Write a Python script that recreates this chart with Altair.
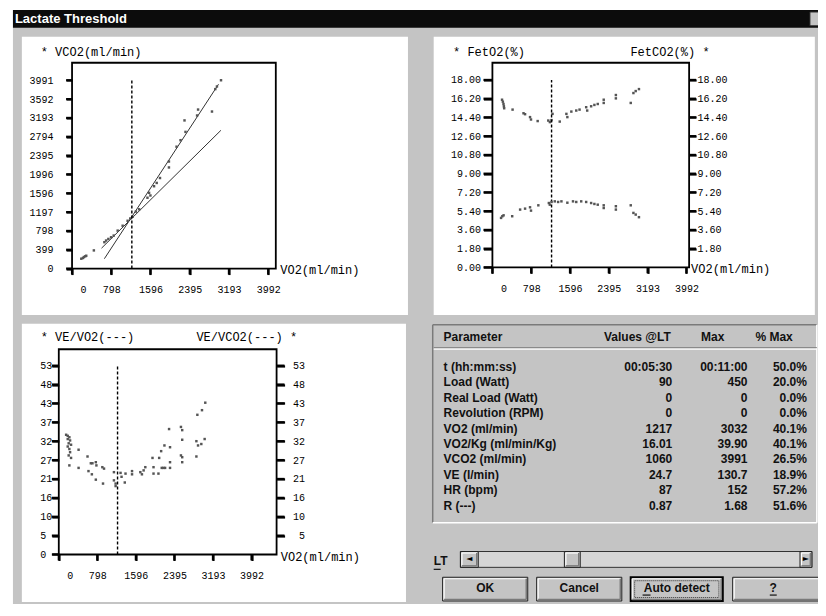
import altair as alt
import pandas as pd

# ---------------- data ----------------
lt_vo2 = 1217

# Panel 1: VCO2 vs VO2
p1_vo2 = [188, 222, 242, 269, 289, 444, 658, 693, 739, 794, 848, 929, 1030, 1131, 1184, 1232,
          1299, 1366, 1535, 1568, 1595, 1669, 1723, 1790, 1972, 1972, 2127, 2208, 2309, 2289,
          2545, 2565, 2848, 2915, 2949, 3032]
p1_vco2 = [209, 224, 245, 260, 272, 385, 559, 594, 628, 663, 699, 804, 908, 1013, 1061, 1097,
           1208, 1256, 1501, 1605, 1549, 1745, 1815, 1919, 2143, 2269, 2583, 2721, 2897, 3140,
           3244, 3370, 3328, 3803, 3859, 3991]
reg_name = ["steep", "steep", "shallow", "shallow"]
reg_vo2 = [658, 2981, 600, 3030]
reg_vco2 = [209, 3907, 432, 2930]

# Panel 2: FetO2 / FetCO2 vs VO2
p2_o2_vo2 = [198, 215, 228, 236, 242, 415, 640, 672, 774, 794, 931, 1149, 1182, 1216, 1237, 1385,
             1522, 1542, 1624, 1725, 1793, 1929, 1950, 2031, 2098, 2167, 2290, 2290, 2540, 2540,
             2846, 2901, 2948, 3015]
p2_feto2 = [16.10, 15.91, 15.69, 15.47, 15.28, 15.15, 14.80, 14.71, 14.43, 14.20, 14.05, 14.10,
            13.95, 14.14, 14.74, 14.00, 14.74, 14.43, 14.96, 15.06, 15.15, 15.38, 15.06, 15.47,
            15.60, 15.69, 16.10, 15.79, 16.55, 16.23, 15.79, 16.74, 16.93, 17.12]
p2_co2_vo2 = [178, 204, 230, 407, 570, 672, 774, 794, 945, 1161, 1181, 1216, 1283, 1352, 1420,
              1542, 1658, 1725, 1827, 1929, 2031, 2098, 2167, 2290, 2290, 2540, 2540, 2846, 2901,
              2948, 3015]
p2_fetco2 = [4.75, 4.91, 5.00, 4.91, 5.55, 5.64, 5.77, 5.45, 5.96, 6.18, 6.02, 6.28, 6.34, 6.28,
             6.34, 6.21, 6.34, 6.28, 6.34, 6.28, 6.18, 6.09, 6.02, 5.96, 5.70, 5.87, 5.55, 5.96,
             5.23, 5.07, 4.82]

# Panel 3: VE/VO2 and VE/VCO2 vs VO2
p3_o2_vo2 = [185, 219, 234, 205, 254, 219, 410, 615, 685, 767, 916, 1142, 1177, 1177, 1367, 1300,
             1517, 1722, 1962, 2064, 2120, 2188, 2284, 2304, 2530, 2556, 2556, 2870, 2966, 3034]
p3_ve_vo2 = [30.3, 29.6, 28.7, 27.8, 27.1, 25.0, 24.3, 23.4, 22.5, 21.0, 19.9, 20.8, 19.9, 19.2,
             20.2, 21.8, 22.5, 22.5, 22.7, 22.7, 29.0, 30.6, 35.2, 30.1, 35.8, 34.9, 32.2, 39.2,
             40.5, 42.6]
p3_co2_vo2 = [152, 185, 219, 185, 234, 205, 254, 410, 595, 664, 697, 767, 779, 902, 937, 1142,
              1279, 1382, 1517, 1689, 1757, 1792, 1941, 1962, 2079, 2132, 2167, 2202, 2304, 2304,
              2530, 2556, 2556, 2850, 2850, 2884, 2952, 3021]
p3_ve_vco2 = [33.6, 33.3, 32.9, 32.4, 32.0, 31.2, 30.8, 29.4, 27.5, 25.6, 25.6, 25.9, 25.0, 24.5,
              24.1, 23.1, 22.9, 22.7, 23.4, 23.1, 23.6, 24.5, 27.1, 24.5, 27.1, 24.3, 24.3, 24.3,
              25.9, 24.3, 27.8, 27.3, 25.9, 31.8, 27.5, 30.6, 31.0, 32.4]

# Axis ticks
x_ticks = [0, 798, 1596, 2395, 3193, 3992]
p1_y_ticks = [0, 399, 798, 1197, 1596, 1996, 2395, 2794, 3193, 3592, 3991]
p2_y_ticks = [0, 1.8, 3.6, 5.4, 7.2, 9.0, 10.8, 12.6, 14.4, 16.2, 18.0]
p3_y_ticks = [0, 5.3, 10.6, 15.9, 21.2, 26.5, 31.8, 37.1, 42.4, 47.7, 53.0]
p3_y_labels = ["0", "5", "10", "16", "21", "27", "32", "37", "43", "48", "53"]
top_ticks = [3991, 18.0, 53.0]

# Table
params = ["t (hh:mm:ss)", "Load (Watt)", "Real Load (Watt)", "Revolution (RPM)", "VO2 (ml/min)",
          "VO2/Kg (ml/min/Kg)", "VCO2 (ml/min)", "VE (l/min)", "HR (bpm)", "R (---)"]
values_lt = ["00:05:30", "90", "0", "0", "1217", "16.01", "1060", "24.7", "87", "0.87"]
values_max = ["00:11:00", "450", "0", "0", "3032", "39.90", "3991", "130.7", "152", "1.68"]
values_pct = ["50.0%", "20.0%", "0.0%", "0.0%", "40.1%", "40.1%", "26.5%", "18.9%", "57.2%", "51.6%"]

# ---------------- layout helpers ----------------
W, H = 810, 596
MONO = "Liberation Mono"
SANS = "Liberation Sans"
GREY = "#c4c4c4"
PT = "#555555"
TW = 2.2


def px(v):
    return round((v - 8) * 0.99, 2)


def py(v):
    return round((v - 8) * 0.99, 2)


one = pd.DataFrame({"k": [0]})


def rect(x1, y1, x2, y2, fill="white", stroke=None, sw=1.0, dash=None, fo=1.0):
    kw = dict(fill=fill, fillOpacity=fo)
    if stroke:
        kw.update(stroke=stroke, strokeWidth=sw)
    if dash:
        kw["strokeDash"] = dash
    return alt.Chart(one).mark_rect(**kw).encode(
        x=alt.value(px(x1)), x2=alt.value(px(x2)), y=alt.value(py(y1)), y2=alt.value(py(y2)))


def seg(x1, y1, x2, y2, color="black", sw=1.0):
    return alt.Chart(one).mark_rule(color=color, strokeWidth=sw).encode(
        x=alt.value(px(x1)), x2=alt.value(px(x2)), y=alt.value(py(y1)), y2=alt.value(py(y2)))


def txt(s, x, y, size=12, font=MONO, weight="normal", color="black", align="left"):
    return alt.Chart(one).mark_text(text=s, font=font, fontSize=size, fontWeight=weight,
                                    color=color, align=align, baseline="middle").encode(
        x=alt.value(px(x)), y=alt.value(py(y)))


def raised(x1, y1, x2, y2, outline="#202020", sw=1.0):
    return [
        rect(x1, y1, x2, y2, fill=GREY, stroke=outline, sw=sw),
        seg(x1 + 1.5, y1 + 1.5, x2 - 1.5, y1 + 1.5, "white", 1.2),
        seg(x1 + 1.5, y1 + 1.5, x1 + 1.5, y2 - 1.5, "white", 1.2),
        seg(x1 + 1.5, y2 - 1.5, x2 - 1.5, y2 - 1.5, "#7a7a7a", 1.5),
        seg(x2 - 1.5, y1 + 1.5, x2 - 1.5, y2 - 1.5, "#7a7a7a", 1.5),
    ]


LBL = 10
common = dict(title=None, grid=False, domain=False, tickColor="black", tickWidth=TW,
              labelFont=MONO, labelFontSize=LBL, labelColor="black", labelFlush=False,
              labelOverlap=False, zindex=2)


def ax_bottom(bottom, tick=6):
    return alt.Axis(orient="bottom", offset=round(py(bottom) - H, 2), values=x_ticks, format="d",
                    tickSize=tick, labelPadding=10,
                    labelOffset={"condition": {"test": "datum.value === 0", "value": 11}, "value": 0},
                    **common)


def ax_side(orient, xpos, values, tick, pad, align, fmt=None, expr=None):
    kw = dict(common)
    if fmt:
        kw["format"] = fmt
    if expr:
        kw["labelExpr"] = expr
    off = -px(xpos) if orient == "left" else px(xpos) - W
    return alt.Axis(orient=orient, offset=round(off, 2), values=values, tickSize=tick,
                    labelPadding=pad, labelAlign=align, **kw)


def scat(df, xf, yf, sx, sy, axx, axy):
    return alt.Chart(df).mark_square(size=6, color=PT, opacity=1).encode(
        x=alt.X(xf, type="quantitative", scale=sx, axis=axx),
        y=alt.Y(yf, type="quantitative", scale=sy, axis=axy))


def lt_rule(top, sx, sy, axx, axy, yf="v"):
    df = pd.DataFrame({"vo2": [lt_vo2], yf: [0.0], "top": [top]})
    return alt.Chart(df).mark_rule(color="black", strokeWidth=1.4, strokeDash=[3, 2]).encode(
        x=alt.X("vo2", type="quantitative", scale=sx, axis=axx),
        y=alt.Y(yf, type="quantitative", scale=sy, axis=axy),
        y2="top")


def xticks(bottom, sx, axx, length=6):
    # vertical tick marks hanging below the frame, placed through the panel's x scale
    df = pd.DataFrame({"vo2": x_ticks})
    return alt.Chart(df).mark_tick(color="black", orient="vertical", size=length * 0.99,
                                   thickness=TW, opacity=1).encode(
        x=alt.X("vo2", type="quantitative", scale=sx, axis=axx),
        y=alt.value(py(bottom + length / 2)))


def yticks(values, edge, length, sy, axy, yf="v"):
    # horizontal tick marks beside the frame, placed through the panel's y scale
    df = pd.DataFrame({yf: values})
    return alt.Chart(df).mark_tick(color="black", orient="horizontal", size=abs(length) * 0.99,
                                   thickness=TW, opacity=1).encode(
        y=alt.Y(yf, type="quantitative", scale=sy, axis=axy),
        x=alt.value(px(edge + length / 2)))


# ---------------- window chrome ----------------
chrome = [
    rect(13, 10, 840, 640, fill=GREY),
    rect(13, 10, 840, 28, fill="#0c0c0c"),
    txt("Lactate Threshold", 15, 19.5, size=13, font=SANS, weight="bold", color="white"),
    rect(818, 12, 840, 26, fill=GREY, stroke="#222", sw=1),
    rect(22, 37, 412, 318),
    rect(438, 37, 823, 318),
    rect(22, 327, 410, 608),
    # plot frames
    rect(72.7, 63.3, 278.5, 271.2, fo=0, stroke="black", sw=1.8),
    rect(497.3, 63.3, 696, 270, fo=0, stroke="black", sw=1.8),
    rect(59.3, 352.7, 279.3, 560, fo=0, stroke="black", sw=1.8),
    # titles
    txt("* VCO2(ml/min)", 41, 52),
    txt("VO2(ml/min)", 283, 273),
    txt("* FetO2(%)", 457.5, 52.5),
    txt("FetCO2(%) *", 636.7, 52.5),
    txt("VO2(ml/min)", 698, 272),
    txt("* VE/VO2(---)", 41, 340.5),
    txt("VE/VCO2(---) *", 198.3, 340.5),
    txt("VO2(ml/min)", 283.5, 562.5),
]

# ---------------- panel 1 ----------------
sx1 = alt.Scale(domain=[0, 4147], range=[px(72.7), px(278.5)], nice=False, zero=False)
sy1 = alt.Scale(domain=[0, 4362], range=[py(271.2), py(63.3)], nice=False, zero=False)
ax1x = ax_bottom(271.2)
ax1y = ax_side("left", 72.7, p1_y_ticks, 6, 13, "right", fmt="d")
df1 = pd.DataFrame({"vo2": p1_vo2, "v": p1_vco2})
dfreg = pd.DataFrame({"vo2": reg_vo2, "v": reg_vco2, "line": reg_name})
panel1 = alt.layer(
    alt.Chart(dfreg).mark_line(color="#333333", strokeWidth=1).encode(
        x=alt.X("vo2", type="quantitative", scale=sx1, axis=ax1x),
        y=alt.Y("v", type="quantitative", scale=sy1, axis=ax1y),
        detail="line:N"),
    scat(df1, "vo2", "v", sx1, sy1, ax1x, ax1y),
    lt_rule(top_ticks[0], sx1, sy1, ax1x, ax1y),
    xticks(271.2, sx1, ax1x),
    yticks(p1_y_ticks, 72.7, -6, sy1, ax1y),
)

# ---------------- panel 2 ----------------
sx2 = alt.Scale(domain=[0, 4047], range=[px(497.3), px(696)], nice=False, zero=False)
sy2 = alt.Scale(domain=[0, 19.65], range=[py(270), py(63.3)], nice=False, zero=False)
ax2x = ax_bottom(270)
ax2l = ax_side("left", 497.3, p2_y_ticks, 9, 3, "right", fmt=".2f")
ax2r = ax_side("right", 696, p2_y_ticks[1:], 7, 1, "left", fmt=".2f")
df2a = pd.DataFrame({"vo2": p2_o2_vo2, "v": p2_feto2})
df2b = pd.DataFrame({"vo2": p2_co2_vo2, "v2": p2_fetco2})
panel2 = alt.layer(
    alt.layer(scat(df2a, "vo2", "v", sx2, sy2, ax2x, ax2l),
              lt_rule(top_ticks[1], sx2, sy2, ax2x, ax2l),
              xticks(270, sx2, ax2x),
              yticks(p2_y_ticks, 497.3, -9, sy2, ax2l)),
    alt.layer(scat(df2b, "vo2", "v2", sx2, sy2, ax2x, ax2r),
              yticks(p2_y_ticks[1:], 696, 7, sy2, ax2r, yf="v2")),
).resolve_scale(y="independent")

# ---------------- panel 3 ----------------
p3expr = "[" + ",".join("'%s'" % s for s in p3_y_labels) + "][round(datum.value / 5.3)]"
sx3 = alt.Scale(domain=[0, 4511], range=[px(59.3), px(279.3)], nice=False, zero=False)
sy3 = alt.Scale(domain=[0, 57.6], range=[py(560), py(352.7)], nice=False, zero=False)
ax3x = ax_bottom(560)
ax3l = ax_side("left", 59.3, p3_y_ticks, 7, 12, "left", expr=p3expr)
ax3r = ax_side("right", 279.3, p3_y_ticks[1:], 8, 20, "right", expr=p3expr)
df3a = pd.DataFrame({"vo2": p3_o2_vo2, "v": p3_ve_vo2})
df3b = pd.DataFrame({"vo2": p3_co2_vo2, "v2": p3_ve_vco2})
panel3 = alt.layer(
    alt.layer(scat(df3a, "vo2", "v", sx3, sy3, ax3x, ax3l),
              lt_rule(top_ticks[2], sx3, sy3, ax3x, ax3l),
              xticks(560, sx3, ax3x),
              yticks(p3_y_ticks, 59.3, -7, sy3, ax3l)),
    alt.layer(scat(df3b, "vo2", "v2", sx3, sy3, ax3x, ax3r),
              yticks(p3_y_ticks[1:], 279.3, 8, sy3, ax3r, yf="v2")),
).resolve_scale(y="independent")

# ---------------- table ----------------
table_box = [
    rect(437, 328, 825, 528, fill=GREY),
    seg(437, 328, 825, 328, "#7a7a7a", 1.5),
    seg(437, 328, 437, 528, "#7a7a7a", 1.5),
    seg(437, 528, 825, 528, "white", 1.5),
    seg(825, 328, 825, 528, "white", 1.5),
    seg(438, 351, 825, 351, "#8a8a8a", 1.2),
    seg(438, 352.5, 825, 352.5, "white", 1.2),
    txt("Parameter", 448, 340, size=12, font=SANS, weight="bold", color="#111"),
    txt("Values @LT", 610, 340, size=12, font=SANS, weight="bold", color="#111"),
    txt("Max", 708, 340, size=12, font=SANS, weight="bold", color="#111"),
    txt("% Max", 763, 340, size=12, font=SANS, weight="bold", color="#111"),
]
dft = pd.DataFrame({"param": params, "lt": values_lt, "mx": values_max, "pct": values_pct})
sy_t = alt.Scale(type="point", domain=params, range=[py(370.7), py(510.7)], padding=0)


def col(field, x, align):
    return alt.Chart(dft).mark_text(font=SANS, fontSize=12, fontWeight="bold", color="#111",
                                    align=align, baseline="middle").encode(
        x=alt.value(px(x)), y=alt.Y("param:N", scale=sy_t, axis=None, sort=None),
        text=alt.Text(field + ":N"))


table = alt.layer(col("param", 448, "left"), col("lt", 679, "right"),
                  col("mx", 755, "right"), col("pct", 815, "right"))

# ---------------- slider & buttons ----------------
controls = [
    txt("LT", 438, 567, size=12, font=SANS, weight="bold", color="#111"),
    seg(438, 575, 445, 575, "#111", 1.2),
    rect(465, 557, 820, 573, fill="#d6d6d6", stroke="#333", sw=1),
]
controls += raised(465, 557, 483, 573)
controls += [txt("\u25c4", 474, 565, size=8, font="DejaVu Sans", align="center")]
controls += raised(570, 557, 586, 573)
controls += raised(808, 557, 820, 573)
controls += [txt("\u25ba", 814, 565, size=8, font="DejaVu Sans", align="center")]
controls += raised(447, 583, 533, 607)
controls += [txt("OK", 490, 594, size=12, font=SANS, weight="bold", color="#111", align="center")]
controls += raised(542, 583, 628, 607)
controls += [txt("Cancel", 585, 594, size=12, font=SANS, weight="bold", color="#111", align="center")]
controls += raised(637, 583, 730, 607, outline="black", sw=2)
controls += [rect(641, 586.5, 726, 603.5, fo=0, stroke="#333", sw=1, dash=[1, 1]),
             txt("Auto detect", 683.5, 594, size=12, font=SANS, weight="bold", color="#111", align="center"),
             seg(649, 601, 657, 601, "#111", 1.2)]
controls += raised(740, 583, 840, 607)
controls += [txt("?", 781, 594, size=12, font=SANS, weight="bold", color="#111", align="center"),
             seg(777.5, 601, 784.5, 601, "#111", 1.2)]

chart = alt.layer(*chrome, panel1, panel2, panel3, *table_box, table, *controls).resolve_scale(
    x="independent", y="independent"
).properties(
    width=W, height=H, padding=0, background="white",
    autosize=alt.AutoSizeParams(type="none"),
).configure_view(strokeWidth=0)

chart.save("out.html", embed_options={"renderer": "svg", "actions": False})
